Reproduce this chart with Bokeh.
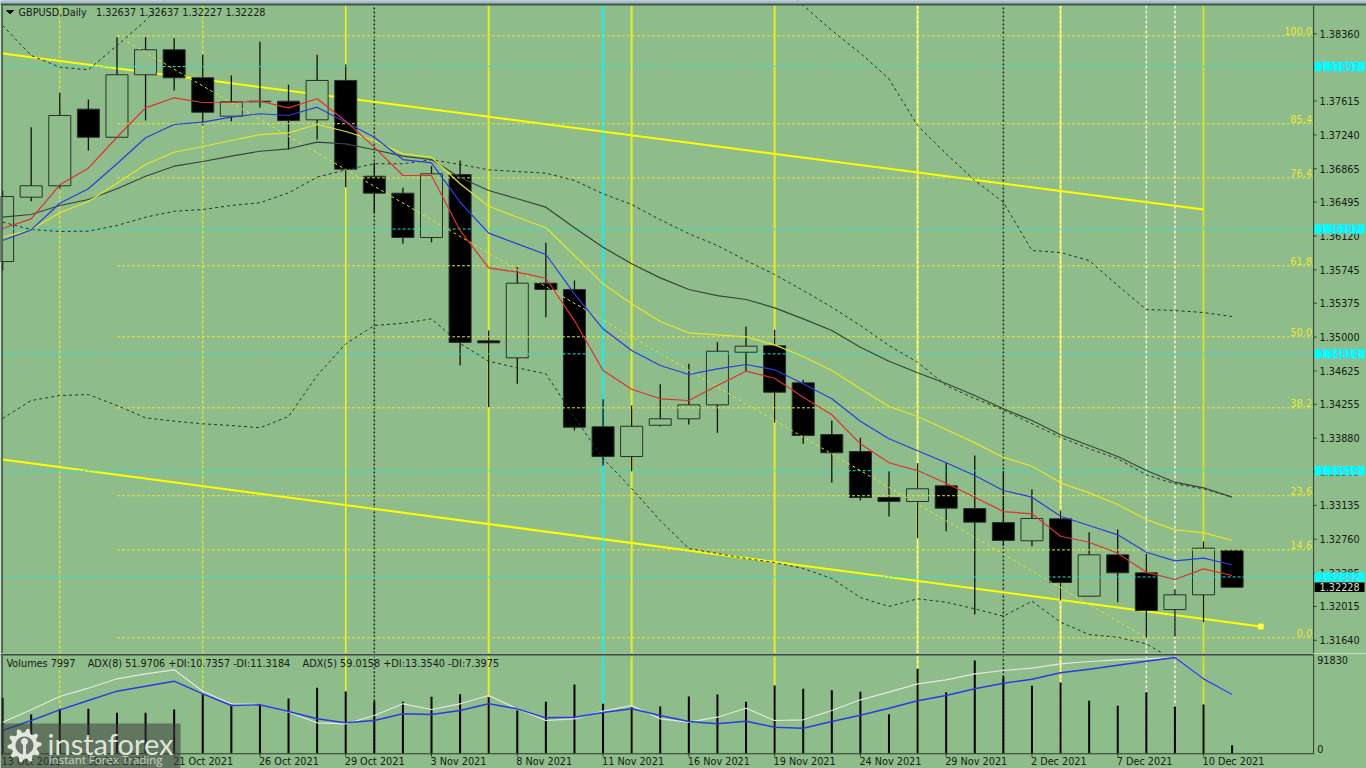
import math
from bokeh.embed import file_html
from bokeh.resources import INLINE
from bokeh.plotting import figure
from bokeh.layouts import column
from bokeh.core.properties import value
from bokeh.models import Range1d, Label, BoxAnnotation, PolyAnnotation

nan = float("nan")
BG = "#8FBC8B"
FONT = "DejaVu Sans"
TXT = "#141a14"

date_idx = [0, 3, 6, 9, 12, 15, 18, 21, 24, 27, 30, 33, 36, 39, 42]
date_txt = ["13 Oct 2021", "18 Oct 2021", "21 Oct 2021", "26 Oct 2021", "29 Oct 2021", "3 Nov 2021", "8 Nov 2021",
            "11 Nov 2021", "16 Nov 2021", "19 Nov 2021", "24 Nov 2021", "29 Nov 2021", "2 Dec 2021", "7 Dec 2021", "10 Dec 2021"]

opens = [1.35837,1.36550,1.36676,1.37525,1.37214,1.37906,1.38183,1.37873,1.37447,1.37607,1.37613,1.37407,1.37843,1.36782,1.36594,1.36103,
         1.36801,1.34958,1.34770,1.35597,1.35527,1.34006,1.33676,1.34023,1.34094,1.34249,1.34832,1.34903,1.34493,1.33920,1.33732,1.33222,
         1.33178,1.33352,1.33100,1.32945,1.32743,1.32986,1.32129,1.32587,1.32388,1.31981,1.32144,1.32637]
highs = [1.36624,1.37325,1.37710,1.37632,1.38322,1.38322,1.38311,1.38127,1.37898,1.38271,1.37795,1.38127,1.38020,1.36934,1.36654,1.36893,
         1.36956,1.35073,1.35774,1.36044,1.35627,1.34311,1.34242,1.34478,1.34704,1.34943,1.35117,1.35080,1.34526,1.34075,1.33884,1.33514,
         1.33602,1.33607,1.33688,1.33521,1.33311,1.33078,1.32838,1.32868,1.32598,1.32203,1.32735,1.32637]
lows = [1.35737,1.36505,1.36646,1.37067,1.37205,1.37399,1.37732,1.37344,1.37392,1.37540,1.37075,1.37189,1.36660,1.36372,1.36033,1.36051,
        1.34685,1.34223,1.34482,1.35220,1.33965,1.33577,1.33514,1.34009,1.34031,1.33939,1.34622,1.34053,1.33817,1.33388,1.33189,1.33012,
        1.32771,1.32849,1.31926,1.32690,1.32683,1.32081,1.32125,1.32062,1.31668,1.31682,1.31841,1.32227]
closes = [1.36557,1.36676,1.37455,1.37214,1.37906,1.38183,1.37873,1.37491,1.37607,1.37613,1.37399,1.37843,1.36860,1.36594,1.36103,1.36809,
          1.34940,1.34936,1.35597,1.35527,1.34001,1.33676,1.34012,1.34094,1.34249,1.34843,1.34899,1.34389,1.33909,1.33718,1.33222,1.33178,
          1.33319,1.33104,1.32949,1.32746,1.32990,1.32281,1.32587,1.32388,1.31970,1.32144,1.32661,1.32228]

ma_red = [1.36203,1.36310,1.36687,1.36871,1.37214,1.37540,1.37651,1.37599,1.37599,1.37613,1.37540,1.37640,1.37392,1.37104,1.36790,1.36790,
          1.36181,1.35767,1.35719,1.35652,1.35183,1.34629,1.34422,1.34316,1.34297,1.34463,1.34622,1.34544,1.34334,1.34139,1.33817,1.33607,
          1.33521,1.33381,1.33226,1.33067,1.33042,1.32793,1.32727,1.32605,1.32395,1.32314,1.32432,1.32358]
ma_blue = [1.36070,1.36188,1.36483,1.36643,1.36920,1.37208,1.37355,1.37381,1.37436,1.37474,1.37455,1.37547,1.37381,1.37214,1.36967,1.36931,
           1.36494,1.36151,1.36033,1.35915,1.35479,1.35091,1.34851,1.34685,1.34585,1.34648,1.34696,1.34637,1.34482,1.34316,1.34068,1.33873,
           1.33740,1.33607,1.33466,1.33300,1.33226,1.33015,1.32912,1.32809,1.32616,1.32521,1.32550,1.32477]
ma_yellow = [1.36106,1.36188,1.36377,1.36502,1.36705,1.36912,1.37048,1.37111,1.37178,1.37244,1.37263,1.37355,1.37278,1.37178,1.37030,1.36993,
             1.36698,1.36450,1.36328,1.36211,1.35904,1.35590,1.35368,1.35172,1.35047,1.35025,1.35003,1.34914,1.34785,1.34629,1.34427,1.34231,
             1.34120,1.33976,1.33828,1.33669,1.33569,1.33385,1.33274,1.33145,1.32978,1.32864,1.32834,1.32746]
ma_dark = [1.36328,1.36358,1.36458,1.36524,1.36643,1.36782,1.36893,1.36945,1.37004,1.37059,1.37086,1.37159,1.37141,1.37075,1.37004,1.36967,
           1.36768,1.36624,1.36532,1.36439,1.36211,1.35996,1.35812,1.35656,1.35527,1.35460,1.35416,1.35324,1.35202,1.35073,1.34888,1.34732,
           1.34604,1.34485,1.34352,1.34205,1.34075,1.33917,1.33798,1.33677,1.33521,1.33392,1.33330,1.33226]
bb_upper = [1.38452,1.38120,1.37990,1.37961,1.38230,1.38507,1.38840,nan,nan,nan,nan,nan,nan,nan,nan,nan,
            nan,nan,nan,nan,nan,nan,nan,nan,nan,nan,nan,1.38951,1.38674,1.38397,1.38145,1.37861,
            1.37344,1.37030,1.36735,1.36494,1.35959,1.35937,1.35848,1.35571,1.35305,1.35294,1.35272,1.35228]
bb_mid = [1.36273,1.36192,1.36170,1.36173,1.36236,1.36328,1.36394,1.36413,1.36458,1.36488,1.36598,1.36771,1.36853,1.36920,1.36920,1.36964,
          1.36912,1.36853,1.36834,1.36816,1.36735,1.36587,1.36469,1.36299,1.36144,1.36014,1.35848,1.35693,1.35516,1.35331,1.35128,1.34906,
          1.34721,1.34463,1.34319,1.34194,1.34039,1.33890,1.33762,1.33651,1.33474,1.33374,1.33319,1.33226]
bb_lower = [1.34098,1.34297,1.34352,1.34363,1.34242,1.34105,1.34068,1.34039,1.34020,1.33995,1.34120,1.34574,1.34925,1.35128,1.35153,1.35202,
            1.34929,1.34732,1.34659,1.34593,1.34112,1.33654,1.33322,1.32967,1.32657,1.32602,1.32546,1.32502,1.32436,1.32325,1.32114,1.32015,
            1.32100,1.32062,1.31989,1.31907,1.32073,1.31841,1.31704,1.31674,1.31601,1.31416,nan,nan]

volumes = [54880,38340,43980,43980,40020,40020,43290,58150,48240,48240,54190,64790,61120,51510,50920,55870,58450,55470,42300,50920,68050,48940,
           45570,46260,56170,58150,50920,67070,63790,62410,60820,38630,83610,60430,91830,75980,66770,70040,51910,46950,60430,46260,48240,7997]
adx_white = [29.05,40.67,53.14,60.92,69.73,74.41,78.16,58.11,46.30,45.64,38.43,28.49,27.55,35.33,46.30,40.96,46.30,54.08,41.61,30.65,32.24,39.36,
             44.70,32.24,29.05,33.74,42.17,30.65,31.30,40.02,50.05,57.17,65.04,68.79,74.41,77.51,79.66,83.79,85.94,87.53,88.47,89.69,69.73,55.01]
adx_blue = [21.27,30.65,40.67,49.39,58.11,62.79,67.48,55.67,44.70,45.36,39.08,32.24,28.49,30.65,36.93,36.27,40.02,46.30,41.61,33.18,33.74,38.14,
            41.61,35.33,29.71,27.55,29.99,24.37,23.43,29.71,35.61,42.17,49.11,54.08,60.36,65.60,69.35,75.35,78.73,82.47,86.22,89.69,69.73,55.01]

channel_top_x = [0, 42]
channel_top_y = [1.38142, 1.36413]
channel_low_x = [0, 44]
channel_low_y = [1.33643, 1.31793]
fibo_x = [4, 40]
fibo_y = [1.38338, 1.31668]
fibo_labels = ["100.0", "85.4", "76.4", "61.8", "50.0", "38.2", "23.6", "14.6", "0.0"]
fibo_levels = [1.38338, 1.37364, 1.36764, 1.35790, 1.35003, 1.34216, 1.33242, 1.32642, 1.31668]
cyan_levels = [1.37997, 1.36197, 1.34814, 1.33519, 1.32342]
cyan_labels = ["1.37997", "1.36197", "1.34814", "1.33519", "1.32342"]
last_price = [1.32228]
last_label = ["1.32228"]
price_ticks = [1.38360, 1.37990, 1.37615, 1.37240, 1.36865, 1.36495, 1.36120, 1.35745, 1.35375, 1.35000, 1.34625,
               1.34255, 1.33880, 1.33505, 1.33135, 1.32760, 1.32385, 1.32015, 1.31640]
price_tick_labels = ["1.38360", "1.37990", "1.37615", "1.37240", "1.36865", "1.36495", "1.36120", "1.35745", "1.35375", "1.35000", "1.34625",
                     "1.34255", "1.33880", "1.33505", "1.33135", "1.32760", "1.32385", "1.32015", "1.31640"]
vol_ticks = [91830, 4500]
vol_tick_labels = ["91830", "0"]

v_yellow_dash = [2, 7]
v_black_dot = [13, 35]
v_yellow_solid_thin = [12]
v_yellow_solid = [17, 22, 27, 32, 37]
v_lime_solid = [42]
v_white_dash_over = [32, 37, 40, 41]
v_cyan = [21]

NB = "\u00a0"
title_text = "GBPUSD,Daily" + NB * 2 + " 1.32637 1.32637 1.32227 1.32228"
vol_text = ("Volumes 7997" + NB * 3 + " ADX(8) 51.9706 +DI:10.7357 -DI:11.3184" + NB * 3
            + " ADX(5) 59.0158 +DI:13.3540 -DI:7.3975")

X0, X1 = -0.0734, 47.70      # whole canvas width
XAX = 45.85                  # the right-hand scale sits here
xr = Range1d(X0, X1)
idx = list(range(len(closes)))
W = 1366

p = figure(width=W, height=653, x_range=xr, y_range=Range1d(1.31494, 1.38729), x_axis_location=None, y_axis_location=None,
           output_backend="svg", toolbar_location=None, min_border=0, background_fill_color=BG, border_fill_color=BG,
           outline_line_color=None)
p.grid.visible = False
q = figure(width=W, height=115, x_range=xr, y_range=Range1d(-15156, 98763), x_axis_location=None, y_axis_location=None,
           output_backend="svg", toolbar_location=None, min_border=0, background_fill_color=BG, border_fill_color=BG,
           outline_line_color=None)
q.grid.visible = False
q.extra_y_ranges = {"adx": Range1d(-14.34, 93.44)}

# vertical lines in both panels
for fig, lo, hi in ((p, 1.31494, 1.38674), (q, 0, 95790)):
    def vl(xs, color, width, dash="solid"):
        fig.segment(xs, [lo] * len(xs), xs, [hi] * len(xs), line_color=color, line_width=width, line_dash=dash)
    vl(v_yellow_dash, "#f2f21e", 1.1, "3 2")
    vl(v_yellow_solid_thin, "#ffff00", 1.3)
    vl(v_yellow_solid, "#e8ec28", 2)
    vl(v_lime_solid, "#cfe02c", 2)
    vl(v_cyan, "#12f0f0", 2)
    vl(v_white_dash_over, "#f4f6e8", 1.5, "3 2")
    vl(v_black_dot, "#20281f", 1.5, "2 2")

# channel lines
p.line(channel_top_x, channel_top_y, line_color="#ffff00", line_width=2)
p.line(channel_low_x, channel_low_y, line_color="#ffff00", line_width=2)
p.scatter([channel_low_x[1]], [channel_low_y[1]], marker="square", size=5, fill_color="#ffff80", line_color="#ffff00")

# candles
p.segment(idx, lows, idx, highs, line_color="#0c120c", line_width=1.3)
body_top = [max(a, b) for a, b in zip(opens, closes)]
body_bot = [min(a, b) for a, b in zip(opens, closes)]
fills = ["#000000" if c < o else BG for o, c in zip(opens, closes)]
p.vbar(x=idx, top=body_top, bottom=body_bot, width=0.77, fill_color=fills, line_color="#26332a", line_width=1)

# horizontal levels
for lv in cyan_levels:
    p.line([0, XAX], [lv, lv], line_color="#1fe6d8", line_width=1, line_dash="3 2")
for lv in fibo_levels:
    p.line([fibo_x[0], XAX], [lv, lv], line_color="#e8e830", line_width=1, line_dash="3 2")
p.line(fibo_x, fibo_y, line_color="#e0e030", line_width=1, line_dash="3 3")

# moving averages and envelopes
p.line(idx, bb_upper, line_color="#26332a", line_width=1, line_dash="3 3")
p.line(idx, bb_mid, line_color="#26332a", line_width=1, line_dash="3 3")
p.line(idx, bb_lower, line_color="#26332a", line_width=1, line_dash="3 3")
p.line(idx, ma_dark, line_color="#36453a", line_width=1.2)
p.line(idx, ma_yellow, line_color="#e6e628", line_width=1.2)
p.line(idx, ma_blue, line_color="#2a3ce0", line_width=1.2)
p.line(idx, ma_red, line_color="#e03030", line_width=1.2)

def txt(fig, xs, ys, labels, color, size="9.7px", align="left", **kw):
    fig.text(xs, ys, text=labels, text_font=value(FONT), text_font_size=size, text_color=color,
             text_align=align, text_baseline="middle", **kw)

txt(p, [45.80] * len(fibo_levels), fibo_levels, fibo_labels, "#e8e838", "9.8px", "right", y_offset=-4.5)

# right-hand price scale
p.segment([XAX] * len(price_ticks), price_ticks, [XAX + 0.105] * len(price_ticks), price_ticks, line_color="#2c3a2e", line_width=1)
txt(p, [XAX + 0.21] * len(price_ticks), price_ticks, price_tick_labels, TXT)

# price flags
HALF = 0.00052
p.quad(left=[XAX + 0.035] * 5, right=[47.63] * 5, bottom=[v - HALF for v in cyan_levels], top=[v + HALF for v in cyan_levels],
       fill_color="#00ffff", line_color=None)
txt(p, [XAX + 0.21] * 5, cyan_levels, cyan_labels, "#98aeb0")
p.quad(left=[XAX + 0.035], right=[47.63], bottom=[last_price[0] - HALF], top=[last_price[0] + HALF], fill_color="#000000", line_color=None)
txt(p, [XAX + 0.21], last_price, last_label, "#d8e4d8")

# heading and frame
p.add_layout(PolyAnnotation(xs=[6, 13, 9.5], ys=[643, 643, 639.5], xs_units="screen", ys_units="screen",
                            fill_color="#000000", fill_alpha=1, line_color="#000000", line_alpha=1))
p.add_layout(Label(x=18, y=641, x_units="screen", y_units="screen", text=title_text,
                   text_font=FONT, text_font_size="9.7px", text_color=TXT, text_baseline="middle"))

def bar(fig, l, r, b, t, color, alpha=1.0, level="annotation"):
    fig.add_layout(BoxAnnotation(left=l, right=r, bottom=b, top=t, left_units="screen", right_units="screen",
                                 bottom_units="screen", top_units="screen", fill_color=color, fill_alpha=alpha,
                                 line_color=None, level=level))

bar(p, 0, W, 650, 653, "#aab9d8")
bar(p, 0, W, 648, 650, "#3d5a42")
bar(p, 1, 2.2, 0, 648, "#2c3a2e")
bar(p, 1312.6, 1313.6, 0, 648, "#2c3a2e")

# volume panel
q.vbar(x=idx, top=volumes, bottom=0, width=0.07, fill_color="#000000", line_color=None)
q.line(idx, adx_white, y_range_name="adx", line_color="#e4e8e0", line_width=1.2)
q.line(idx, adx_blue, y_range_name="adx", line_color="#2a3ce0", line_width=1.4)
q.add_layout(Label(x=6, y=105, x_units="screen", y_units="screen", text=vol_text,
                   text_font=FONT, text_font_size="9.7px", text_color=TXT, text_baseline="middle"))
txt(q, [45.975] * 2, vol_ticks, vol_tick_labels, TXT)
q.segment(date_idx, [-300] * len(date_idx), date_idx, [-3300] * len(date_idx), line_color="#2c3a2e", line_width=1)
txt(q, date_idx, [-8220] * len(date_idx), date_txt, TXT, x_offset=-1)

bar(q, 0, 1313.6, 113, 115, "#3d4d3f")
bar(q, 1, 2.2, 15, 113, "#2c3a2e")
bar(q, 1312.6, 1313.6, 15, 113, "#2c3a2e")
bar(q, 0, 1313.6, 14.3, 15.3, "#2c3a2e")

# watermark
bar(q, 0, 180, 0, 45, "#3c3c3c", 0.55, "overlay")
cx, cy, n_t = 24, 23, 10
gx, gy = [], []
for k in range(n_t * 4):
    a = 2 * math.pi * k / (n_t * 4)
    r = 17 if k % 4 in (0, 1) else 13
    gx.append(cx + r * math.cos(a)); gy.append(cy + r * math.sin(a))
def poly(xs, ys, color):
    q.add_layout(PolyAnnotation(xs=xs, ys=ys, xs_units="screen", ys_units="screen", fill_color=color, fill_alpha=1,
                                line_color=None, level="overlay"))
poly(gx, gy, "#e2e6de")
poly([cx + 9 * math.cos(2 * math.pi * k / 24) for k in range(24)], [cy + 9 * math.sin(2 * math.pi * k / 24) for k in range(24)], "#6a7668")
poly([cx + 3.5 * math.cos(2 * math.pi * k / 16) for k in range(16)], [cy + 4 + 3.5 * math.sin(2 * math.pi * k / 16) for k in range(16)], "#e2e6de")
poly([cx - 1.5, cx + 1.5, cx + 1.5, cx - 1.5], [cy + 1, cy + 1, cy - 13, cy - 13], "#e2e6de")
q.add_layout(Label(x=47, y=25, x_units="screen", y_units="screen", text="instaforex", text_font="Lato", text_font_size="29px",
                   text_color="#e0e5dc", text_baseline="middle", level="overlay"))
q.add_layout(Label(x=48, y=9, x_units="screen", y_units="screen", text="Instant Forex Trading", text_font="Open Sans", text_font_size="11.5px",
                   text_color="#cdd4c9", text_baseline="middle", level="overlay"))

root = column(p, q, spacing=0)
open("out.html", "w").write(file_html(root, INLINE))
